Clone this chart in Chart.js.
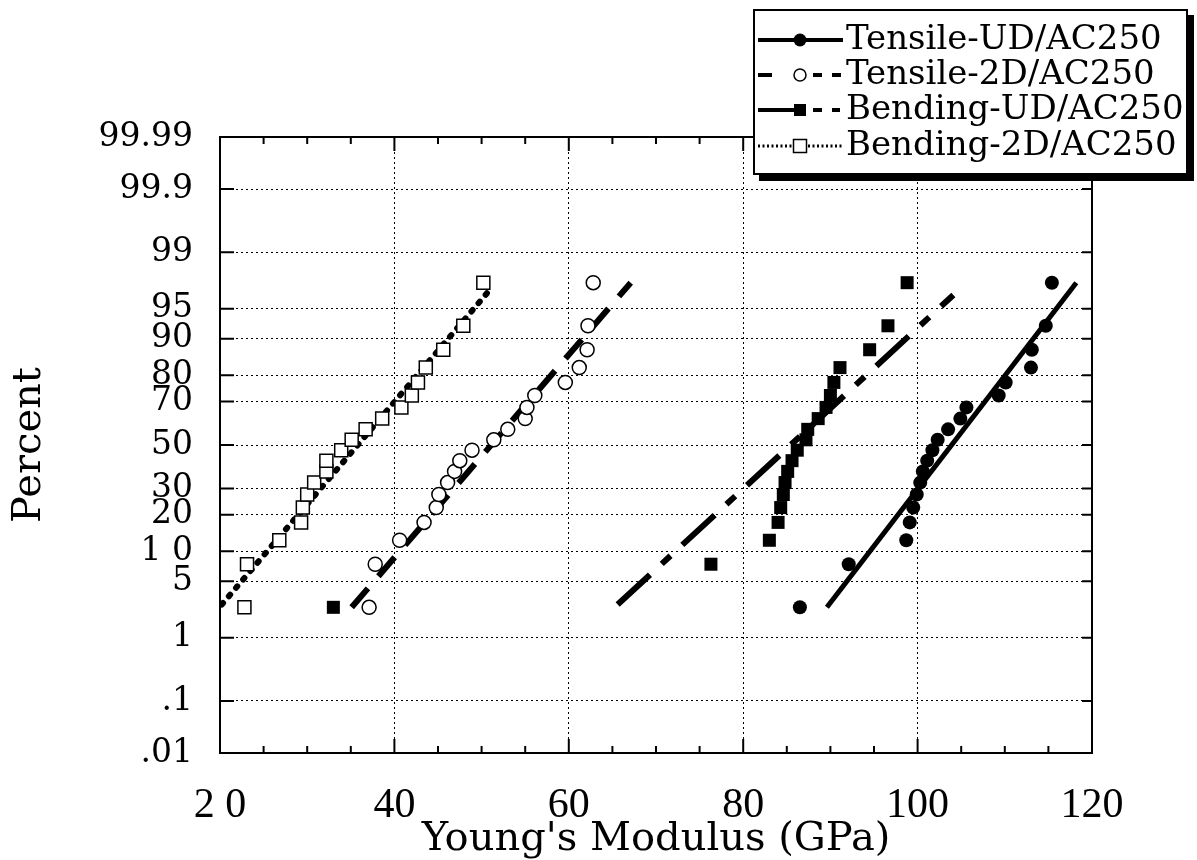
<!DOCTYPE html>
<html>
<head>
<meta charset="utf-8">
<script src="https://cdn.jsdelivr.net/npm/chart.js@4.4.0/dist/chart.umd.min.js"></script>
<style>
    html, body { margin: 0; padding: 0; background: #fff; }
    #prob_plot { display: block; }
</style>
</head>
<body>
<canvas id="prob_plot" width="1197" height="860"></canvas>
<script>
// cumulative percent (median ranks) shared by all four series, n = 20
const percent_ranks = [2.5, 7.5, 12.5, 17.5, 22.5, 27.5, 32.5, 37.5, 42.5, 47.5, 52.5, 57.5, 62.5, 67.5, 72.5, 77.5, 82.5, 87.5, 92.5, 97.5];

// Young's modulus (GPa), sorted
const tensile_ud = [86.5, 92.1, 98.7, 99.1, 99.5, 99.9, 100.3, 100.6, 101.1, 101.7, 102.3, 103.5, 104.9, 105.6, 109.3, 110.1, 113.0, 113.1, 114.7, 115.4];
const tensile_2d = [37.1, 37.8, 40.6, 43.4, 44.8, 45.1, 46.1, 46.9, 47.5, 48.9, 51.4, 53.0, 55.0, 55.2, 56.1, 59.6, 61.2, 62.1, 62.2, 62.8];
const bending_ud = [33.0, 76.3, 83.0, 84.0, 84.3, 84.6, 84.8, 85.1, 85.6, 86.2, 87.2, 87.4, 88.6, 89.5, 90.0, 90.4, 91.1, 94.5, 96.6, 98.8];
const bending_2d = [22.8, 23.1, 26.8, 29.3, 29.5, 30.0, 30.8, 32.2, 32.2, 33.9, 35.1, 36.7, 38.6, 40.8, 42.0, 42.7, 43.6, 45.6, 47.9, 50.2];

// fitted lines, end points (GPa / percent)
const fit_tensile_ud_x = [89.6, 118.2];
const fit_tensile_ud_p = [2.5, 97.5];
const fit_tensile_2d_x = [35.1, 67.1];
const fit_tensile_2d_p = [2.5, 97.5];
const fit_bending_ud_x = [65.6, 104.1];
const fit_bending_ud_p = [2.7, 96.5];
const fit_bending_2d_x = [20.2, 51.0];
const fit_bending_2d_p = [2.7, 97.0];

const series_names = ["Tensile-UD/AC250", "Tensile-2D/AC250", "Bending-UD/AC250", "Bending-2D/AC250"];

const y_tick_pct    = [0.01, 0.1, 1, 5, 10, 20, 30, 50, 70, 80, 90, 95, 99, 99.9, 99.99];
const y_tick_labels = [".01", ".1", "1", "5", "1 0", "20", "30", "50", "70", "80", "90", "95", "99", "99.9", "99.99"];
const x_tick_vals   = [20, 40, 60, 80, 100, 120];
const x_tick_labels = ["2 0", "40", "60", "80", "100", "120"];


// inverse of the normal cdf (Acklam), p in (0,1)
function probit(p){
    const a = [-3.969683028665376e+01, 2.209460984245205e+02, -2.759285104469687e+02, 1.383577518672690e+02, -3.066479806614716e+01, 2.506628277459239e+00];
    const b = [-5.447609879822406e+01, 1.615858368580409e+02, -1.556989798598866e+02, 6.680131188771972e+01, -1.328068155288572e+01];
    const c = [-7.784894002430293e-03, -3.223964580411365e-01, -2.400758277161838e+00, -2.549732539343734e+00, 4.374664141464968e+00, 2.938163982698783e+00];
    const d = [7.784695709041462e-03, 3.224671290700398e-01, 2.445134137142996e+00, 3.754408661907416e+00];
    const pl = 0.02425;
    let q, r;
    if (p < pl){
        q = Math.sqrt(-2 * Math.log(p));
        return (((((c[0]*q+c[1])*q+c[2])*q+c[3])*q+c[4])*q+c[5]) / ((((d[0]*q+d[1])*q+d[2])*q+d[3])*q+1);
    }
    if (p <= 1 - pl){
        q = p - 0.5; r = q * q;
        return (((((a[0]*r+a[1])*r+a[2])*r+a[3])*r+a[4])*r+a[5])*q / (((((b[0]*r+b[1])*r+b[2])*r+b[3])*r+b[4])*r+1);
    }
    q = Math.sqrt(-2 * Math.log(1 - p));
    return -(((((c[0]*q+c[1])*q+c[2])*q+c[3])*q+c[4])*q+c[5]) / ((((d[0]*q+d[1])*q+d[2])*q+d[3])*q+1);
}

function to_points(xs, ps){
    return xs.map((x, i) => ({ x: x, y: probit(ps[i] / 100) }));
}

const serif = "'DejaVu Serif', serif";

// frame, inward ticks and the boxed legend
const frame_plugin = {
    id: "frame_plugin",
    afterDraw(chart){
        const ctx = chart.ctx;
        const a = chart.chartArea;
        const xs = chart.scales.x, ys = chart.scales.y;
        ctx.save();
        ctx.strokeStyle = "#000";
        ctx.lineWidth = 2;
        ctx.strokeRect(a.left, a.top, a.right - a.left, a.bottom - a.top);

        ctx.beginPath();
        for (let v = 20; v <= 120; v += 5){
            const px = xs.getPixelForValue(v);
            const len = (v % 20 === 0) ? 14 : 7;
            ctx.moveTo(px, a.bottom); ctx.lineTo(px, a.bottom - len);
            ctx.moveTo(px, a.top);    ctx.lineTo(px, a.top + len);
        }
        for (let p of y_tick_pct){
            const py = ys.getPixelForValue(probit(p / 100));
            ctx.moveTo(a.left, py);  ctx.lineTo(a.left + 14, py);
            ctx.moveTo(a.right, py); ctx.lineTo(a.right - 10, py);
        }
        ctx.stroke();

        // legend box
        const bx = 753, by = 9, bw = 435, bh = 166;
        ctx.fillStyle = "#000";
        ctx.fillRect(bx + 6, by + 6, bw, bh);
        ctx.fillStyle = "#fff";
        ctx.fillRect(bx, by, bw, bh);
        ctx.lineWidth = 2;
        ctx.strokeRect(bx + 1, by + 1, bw - 2, bh - 2);

        const rows = [40, 75, 110, 146];
        const mx = 800;
        ctx.lineWidth = 4;
        ctx.lineCap = "butt";
        function seg(y, x0, x1){ ctx.beginPath(); ctx.moveTo(x0, y); ctx.lineTo(x1, y); ctx.stroke(); }

        // Tensile-UD
        seg(rows[0], 758, 843);
        ctx.fillStyle = "#000";
        ctx.beginPath(); ctx.arc(mx, rows[0], 6.5, 0, Math.PI * 2); ctx.fill();
        // Tensile-2D
        seg(rows[1], 758, 772); seg(rows[1], 813, 822); seg(rows[1], 832, 841);
        ctx.lineWidth = 1.5; ctx.fillStyle = "#fff";
        ctx.beginPath(); ctx.arc(mx, rows[1], 6, 0, Math.PI * 2); ctx.fill(); ctx.stroke();
        // Bending-UD
        ctx.lineWidth = 4;
        seg(rows[2], 758, 795); seg(rows[2], 813, 822); seg(rows[2], 832, 840);
        ctx.fillStyle = "#000";
        ctx.fillRect(mx - 6, rows[2] - 6, 12, 12);
        // Bending-2D
        ctx.lineWidth = 3;
        ctx.setLineDash([2, 2.5]);
        seg(rows[3], 758, 792); seg(rows[3], 808, 843);
        ctx.setLineDash([]);
        ctx.lineWidth = 1.5; ctx.fillStyle = "#fff";
        ctx.fillRect(mx - 6.5, rows[3] - 6.5, 13, 13);
        ctx.strokeRect(mx - 6.5, rows[3] - 6.5, 13, 13);

        ctx.fillStyle = "#000";
        ctx.font = "34px " + serif;
        ctx.textAlign = "left";
        ctx.textBaseline = "middle";
        series_names.forEach((n, i) => ctx.fillText(n, 846, rows[i]));
        ctx.restore();
    }
};

const ctx = document.getElementById("prob_plot").getContext("2d");
const prob_chart = new Chart(ctx, {
    type: "scatter",
    data: {
        datasets: [
            { label: series_names[0], data: to_points(tensile_ud, percent_ranks), pointStyle: "circle", pointRadius: 7, backgroundColor: "#000", borderColor: "#000", borderWidth: 0 },
            { label: series_names[1], data: to_points(tensile_2d, percent_ranks), pointStyle: "circle", pointRadius: 7, backgroundColor: "#fff", borderColor: "#000", borderWidth: 1.5 },
            { label: series_names[2], data: to_points(bending_ud, percent_ranks), pointStyle: "rect", pointRadius: 9.2, backgroundColor: "#000", borderColor: "#000", borderWidth: 0 },
            { label: series_names[3], data: to_points(bending_2d, percent_ranks), pointStyle: "rect", pointRadius: 9.2, backgroundColor: "#fff", borderColor: "#000", borderWidth: 1.5 },
            { label: "fit 1", data: to_points(fit_tensile_ud_x, fit_tensile_ud_p), showLine: true, pointRadius: 0, borderColor: "#000", borderWidth: 5 },
            { label: "fit 2", data: to_points(fit_tensile_2d_x, fit_tensile_2d_p), showLine: true, pointRadius: 0, borderColor: "#000", borderWidth: 6, borderDash: [25, 16] },
            { label: "fit 3", data: to_points(fit_bending_ud_x, fit_bending_ud_p), showLine: true, pointRadius: 0, borderColor: "#000", borderWidth: 6, borderDash: [44, 16, 12, 16] },
            { label: "fit 4", data: to_points(fit_bending_2d_x, fit_bending_2d_p), showLine: true, pointRadius: 0, borderColor: "#000", borderWidth: 6, borderDash: [2, 9], borderCapStyle: "round" }
        ]
    },
    options: {
        responsive: false,
        animation: false,
        devicePixelRatio: 1,
        layout: { padding: { top: 137, right: 105, left: 0, bottom: 0 } },
        scales: {
            x: {
                type: "linear",
                min: 20,
                max: 120,
                afterBuildTicks: (s) => { s.ticks = x_tick_vals.map(v => ({ value: v })); },
                afterFit: (s) => { s.height = 107; },
                ticks: {
                    autoSkip: false,
                    maxRotation: 0,
                    padding: 28,
                    color: "#000",
                    font: { family: "'Liberation Serif', serif", size: 42 },
                    callback: (v, i) => x_tick_labels[i]
                },
                grid: { color: "#000", lineWidth: 1, drawTicks: false },
                border: { display: true, color: "#000", width: 2, dash: [2, 3] },
                title: {
                    display: true,
                    text: "Young's Modulus (GPa)",
                    color: "#000",
                    font: { family: serif, size: 40, lineHeight: 1.0 },
                    padding: { top: 0, bottom: 0 }
                }
            },
            y: {
                type: "linear",
                min: probit(0.0001),
                max: probit(0.9999),
                afterBuildTicks: (s) => { s.ticks = y_tick_pct.map(p => ({ value: probit(p / 100) })); },
                afterFit: (s) => { s.width = 220; },
                ticks: {
                    autoSkip: false,
                    padding: 27,
                    color: "#000",
                    font: { family: serif, size: 33 },
                    callback: (v, i) => y_tick_labels[i]
                },
                grid: { color: "#000", lineWidth: 1, drawTicks: false },
                border: { display: true, color: "#000", width: 2, dash: [2, 3] },
                title: {
                    display: true,
                    text: "Percent",
                    color: "#000",
                    font: { family: serif, size: 40 },
                    padding: { top: 6, bottom: 0 }
                }
            }
        },
        plugins: {
            legend: { display: false },
            tooltip: { enabled: false }
        }
    },
    plugins: [frame_plugin]
});
</script>
</body>
</html>
